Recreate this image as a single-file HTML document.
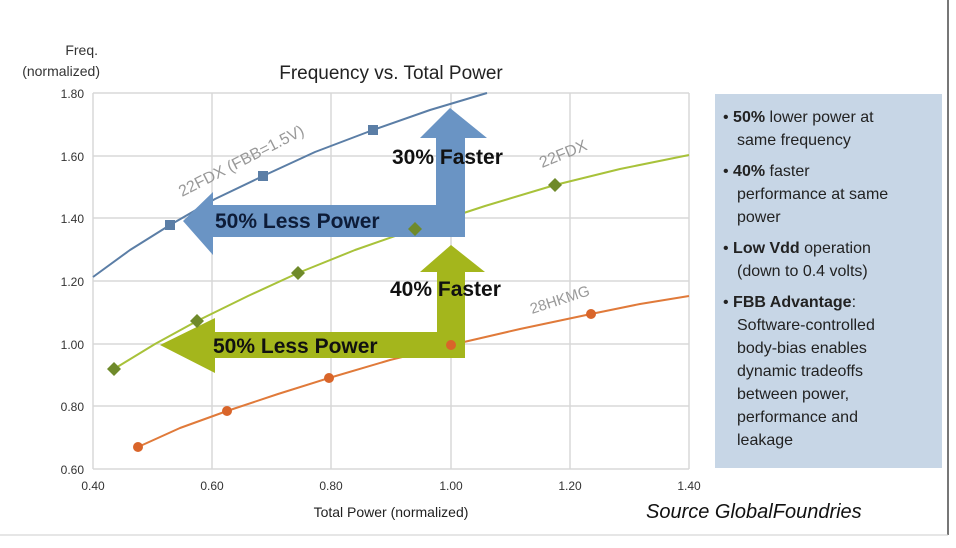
<!DOCTYPE html>
<html><head><style>
body{margin:0;background:#fff;width:956px;height:543px;overflow:hidden;font-family:"Liberation Sans",sans-serif}
</style></head><body>
<svg width="956" height="543" xmlns="http://www.w3.org/2000/svg" font-family="Liberation Sans, sans-serif">
<rect width="956" height="543" fill="#fff"/>
<line x1="948" y1="0" x2="948" y2="535" stroke="#777" stroke-width="2"/>
<line x1="0" y1="535" x2="948" y2="535" stroke="#ccc" stroke-width="1"/>
<g stroke="#d8d8d8" stroke-width="1.5" fill="none">
<line x1="93" y1="93" x2="689" y2="93"/><line x1="93" y1="156" x2="689" y2="156"/>
<line x1="93" y1="218" x2="689" y2="218"/><line x1="93" y1="281" x2="689" y2="281"/>
<line x1="93" y1="344" x2="689" y2="344"/><line x1="93" y1="406" x2="689" y2="406"/>
<line x1="93" y1="469" x2="689" y2="469"/>
<line x1="93" y1="93" x2="93" y2="469"/><line x1="212" y1="93" x2="212" y2="469"/>
<line x1="331" y1="93" x2="331" y2="469"/><line x1="451" y1="93" x2="451" y2="469"/>
<line x1="570" y1="93" x2="570" y2="469"/><line x1="689" y1="93" x2="689" y2="469"/>
</g>
<g font-size="12" fill="#333" text-anchor="end">
<text x="84" y="98">1.80</text><text x="84" y="161">1.60</text><text x="84" y="223">1.40</text>
<text x="84" y="286">1.20</text><text x="84" y="349">1.00</text><text x="84" y="411">0.80</text><text x="84" y="474">0.60</text>
</g>
<g font-size="12" fill="#333" text-anchor="middle">
<text x="93" y="490">0.40</text><text x="212" y="490">0.60</text><text x="331" y="490">0.80</text>
<text x="451" y="490">1.00</text><text x="570" y="490">1.20</text><text x="689" y="490">1.40</text>
</g>
<text x="98" y="55" font-size="14" fill="#333" text-anchor="end">Freq.</text>
<text x="100" y="76" font-size="14" fill="#333" text-anchor="end">(normalized)</text>
<text x="391" y="79" font-size="19" fill="#222" text-anchor="middle">Frequency vs. Total Power</text>
<text x="391" y="517" font-size="14" fill="#222" text-anchor="middle">Total Power (normalized)</text>
<text x="646" y="518" font-size="20" font-style="italic" fill="#111">Source GlobalFoundries</text>
<!-- curves -->
<polyline points="93,277 130,250 170,225 215,199 263,176 315,152 373,130 430,110 487,93" stroke="#5b7ea6" stroke-width="2" fill="none" stroke-linejoin="round"/>
<polyline points="114,369 155,344 197,321 248,296 298,273 355,250 415,229 485,206 555,185 620,169 689,155" stroke="#a8c23a" stroke-width="2" fill="none" stroke-linejoin="round"/>
<polyline points="138,447 180,428 227,411 278,394 329,378 390,360 451,345 520,329 591,314 640,304 689,296" stroke="#e07a3a" stroke-width="2" fill="none" stroke-linejoin="round"/>
<!-- arrows -->
<path d="M465,237 L230,237 L213,237 L213,255 L183,221 L213,192 L213,205 L436,205 L436,138 L420,138 L450,108 L487,138 L465,138 Z" fill="#6a94c4"/>
<path d="M465,358 L215,358 L215,373 L160,345 L215,318 L215,332 L437,332 L437,272 L420,272 L451,245 L485,272 L465,272 Z" fill="#a4b61c"/>
<g fill="#5b7ea6">
<rect x="165" y="220" width="10" height="10"/><rect x="258" y="171" width="10" height="10"/><rect x="368" y="125" width="10" height="10"/></g>
<g fill="#6f8a2a">
<path d="M114,362 l7,7 l-7,7 l-7,-7z"/><path d="M197,314 l7,7 l-7,7 l-7,-7z"/><path d="M298,266 l7,7 l-7,7 l-7,-7z"/><path d="M415,222 l7,7 l-7,7 l-7,-7z"/><path d="M555,178 l7,7 l-7,7 l-7,-7z"/></g>
<g fill="#d9652a">
<circle cx="138" cy="447" r="5"/><circle cx="227" cy="411" r="5"/><circle cx="329" cy="378" r="5"/><circle cx="451" cy="345" r="5"/><circle cx="591" cy="314" r="5"/></g>
<text font-size="16" fill="#999" transform="translate(182,197) rotate(-27)">22FDX  (FBB=1.5V)</text>
<text font-size="16" fill="#999" transform="translate(542,168) rotate(-22)">22FDX</text>
<text font-size="15" fill="#999" transform="translate(532,314) rotate(-18)">28HKMG</text>
<g font-size="21" font-weight="bold">
<text x="392" y="164" fill="#111">30% Faster</text>
<text x="215" y="228" fill="#0d1c38">50% Less Power</text>
<text x="390" y="296" fill="#111">40% Faster</text>
<text x="213" y="353" fill="#111">50% Less Power</text>
</g>
<rect x="715" y="94" width="227" height="374" fill="#c7d6e6"/>
<g font-size="16" fill="#222">
<text x="723" y="122">• <tspan font-weight="bold">50%</tspan> lower power at</text>
<text x="737" y="145">same frequency</text>
<text x="723" y="176">• <tspan font-weight="bold">40%</tspan> faster</text>
<text x="737" y="199">performance at same</text>
<text x="737" y="222">power</text>
<text x="723" y="253">• <tspan font-weight="bold">Low Vdd</tspan> operation</text>
<text x="737" y="276">(down to 0.4 volts)</text>
<text x="723" y="307">• <tspan font-weight="bold">FBB Advantage</tspan>:</text>
<text x="737" y="330">Software-controlled</text>
<text x="737" y="353">body-bias enables</text>
<text x="737" y="376">dynamic tradeoffs</text>
<text x="737" y="399">between power,</text>
<text x="737" y="422">performance and</text>
<text x="737" y="445">leakage</text>
</g>
</svg>
</body></html>
